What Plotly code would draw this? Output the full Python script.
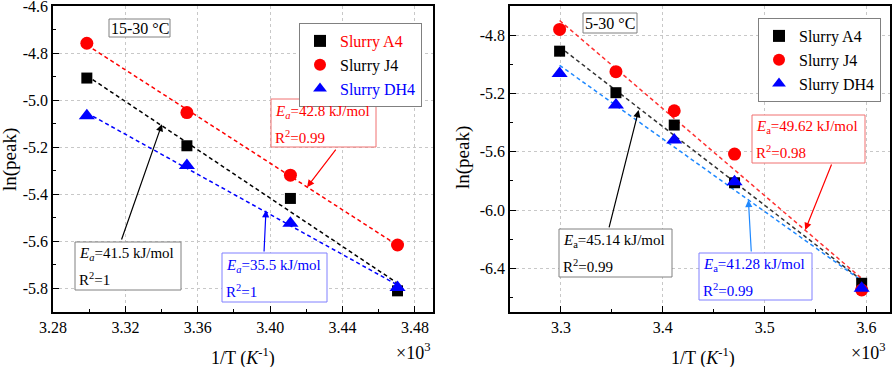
import numpy as np
import plotly.graph_objects as go

# ---------------- data ----------------
# left panel: 15-30 °C
x_left = [3.2987, 3.3540, 3.4112, 3.4704]
a4_left = [-4.905, -5.193, -5.417, -5.810]
j4_left = [-4.757, -5.052, -5.318, -5.615]
dh4_left = [-5.065, -5.277, -5.522, -5.796]

# right panel: 5-30 °C
x_right = [3.2987, 3.3540, 3.4112, 3.4704, 3.5952]
a4_right = [-4.910, -5.195, -5.417, -5.813, -6.503]
j4_right = [-4.761, -5.051, -5.319, -5.616, -6.549]
dh4_right = [-5.063, -5.280, -5.520, -5.806, -6.537]

series_names = ["Slurry A4", "Slurry J4", "Slurry DH4"]

xl_tickvals = [3.28, 3.32, 3.36, 3.40, 3.44, 3.48]
xl_ticktext = ["3.28", "3.32", "3.36", "3.40", "3.44", "3.48"]
yl_tickvals = [-4.6, -4.8, -5.0, -5.2, -5.4, -5.6, -5.8]
yl_ticktext = ["-4.6", "-4.8", "-5.0", "-5.2", "-5.4", "-5.6", "-5.8"]
xr_tickvals = [3.3, 3.4, 3.5, 3.6]
xr_ticktext = ["3.3", "3.4", "3.5", "3.6"]
yr_tickvals = [-4.8, -5.2, -5.6, -6.0, -6.4]
yr_ticktext = ["-4.8", "-5.2", "-5.6", "-6.0", "-6.4"]

# ---------------- layout helpers ----------------
W, H = 892, 367
FONT = "Liberation Serif, Times New Roman, serif"


def px(x):
    return x / W


def py(y):
    return 1 - y / H


fig = go.Figure()

RED, BLACK, BLUE = "#ff0000", "#000000", "#0000ff"
markers = [
    dict(symbol="square", size=11, color=BLACK),
    dict(symbol="circle", size=13, color=RED),
    dict(symbol="triangle-up", size=14, color=BLUE),
]

left_sets = [a4_left, j4_left, dh4_left]
right_sets = [a4_right, j4_right, dh4_right]
left_line_cols = [BLACK, RED, BLUE]
right_line_cols = ["#333333", "#ff3030", "#1e88ff"]
left_leg_cols = [RED, BLACK, BLUE]


def add_fit(xs, ys, col, xa, ya):
    k, b = np.polyfit(xs, ys, 1)
    xf = np.array([min(xs), max(xs)])
    fig.add_trace(go.Scatter(x=xf, y=k * xf + b, mode="lines", xaxis=xa, yaxis=ya,
                             line=dict(color=col, width=1.5, dash="4px,3px"),
                             showlegend=False, hoverinfo="skip"))


for ys, col in zip(left_sets, left_line_cols):
    add_fit(x_left, ys, col, "x", "y")
for ys, col in zip(right_sets, right_line_cols):
    add_fit(x_right, ys, col, "x2", "y2")

for i, ys in enumerate(left_sets):
    fig.add_trace(go.Scatter(x=x_left, y=ys, mode="markers", xaxis="x", yaxis="y",
                             marker=markers[i],
                             name=f"<span style='color:{left_leg_cols[i]}'>{series_names[i]}</span>",
                             legend="legend"))
for i, ys in enumerate(right_sets):
    fig.add_trace(go.Scatter(x=x_right, y=ys, mode="markers", xaxis="x2", yaxis="y2",
                             marker=markers[i], name=series_names[i], legend="legend2"))

axis_common = dict(
    showline=True, linecolor="black", linewidth=1.5, mirror=True,
    ticks="inside", ticklen=6, tickwidth=1, tickcolor="black",
    showgrid=True, gridcolor="#c8c8c8", griddash="dot", gridwidth=1,
    zeroline=False, automargin=False, ticklabeloverflow="allow",
    tickfont=dict(family=FONT, size=16, color="black"),
)

fig.update_layout(
    width=W, height=H,
    margin=dict(l=0, r=0, t=0, b=0),
    paper_bgcolor="white", plot_bgcolor="white",
    font=dict(family=FONT, size=15, color="black"),
    xaxis=dict(axis_common, domain=[px(53), px(433)], range=[3.28, 3.49],
               tickvals=xl_tickvals, ticktext=xl_ticktext, anchor="y",
               minor=dict(ticks="inside", ticklen=3, tickcolor="black", showgrid=False, dtick=0.02, tick0=3.28)),
    yaxis=dict(axis_common, domain=[py(312), py(6)], range=[-5.9, -4.5985],
               tickvals=yl_tickvals, ticktext=yl_ticktext, anchor="x",
               minor=dict(ticks="inside", ticklen=3, tickcolor="black", showgrid=False, dtick=0.1, tick0=-4.6)),
    xaxis2=dict(axis_common, domain=[px(510), px(890)], range=[3.25, 3.623],
                tickvals=xr_tickvals, ticktext=xr_ticktext, anchor="y2",
                minor=dict(ticks="inside", ticklen=3, tickcolor="black", showgrid=False, dtick=0.05, tick0=3.25)),
    yaxis2=dict(axis_common, domain=[py(312), py(6)], range=[-6.7, -4.6],
                tickvals=yr_tickvals, ticktext=yr_ticktext, anchor="x2",
                minor=dict(ticks="inside", ticklen=3, tickcolor="black", showgrid=False, dtick=0.2, tick0=-4.6)),
    legend=dict(x=px(299), y=py(23), xanchor="left", yanchor="top",
                bordercolor="#808080", borderwidth=1, bgcolor="white",
                font=dict(family=FONT, size=16, color="black"),
                itemsizing="constant", tracegroupgap=0),
    legend2=dict(x=px(758), y=py(18), xanchor="left", yanchor="top",
                 bordercolor="#808080", borderwidth=1, bgcolor="white",
                 font=dict(family=FONT, size=16, color="black"),
                 itemsizing="constant", tracegroupgap=0),
)

shapes = []
annotations = []


def box(x0, y0, x1, y1, col):
    shapes.append(dict(type="rect", xref="paper", yref="paper",
                       x0=px(x0), x1=px(x1), y0=py(y1), y1=py(y0),
                       line=dict(color=col, width=1), fillcolor="white", layer="above"))


def text(x, y, s, col, size=15, anchor="left", angle=0):
    annotations.append(dict(xref="paper", yref="paper", x=px(x), y=py(y), text=s,
                            showarrow=False, xanchor=anchor, yanchor="middle",
                            textangle=angle,
                            font=dict(family=FONT, size=size, color=col)))


def arrow(xa, ya, hx, hy, tx, ty, col):
    annotations.append(dict(xref=xa, yref=ya, axref=xa, ayref=ya, x=hx, y=hy, ax=tx, ay=ty,
                            text="", showarrow=True, arrowhead=2, arrowsize=1.2,
                            arrowwidth=1.2, arrowcolor=col, standoff=0))


# left panel annotations
box(109, 19, 170, 37, "#808080")
text(139.5, 28, "15-30 °C", "black", size=16, anchor="center")
box(271, 99, 376, 147, "#f07070")
text(273, 112, "<i>E<sub>a</sub></i>=42.8 kJ/mol", RED)
text(273, 137, "R<sup>2</sup>=0.99", RED)
box(75, 242, 181, 290, "#808080")
text(77, 254, "<i>E<sub>a</sub></i>=41.5 kJ/mol", "black")
text(77, 279, "R<sup>2</sup>=1", "black")
box(222, 253, 327, 302, "#8080ff")
text(224, 266, "<i>E<sub>a</sub></i>=35.5 kJ/mol", BLUE)
text(224, 291, "R<sup>2</sup>=1", BLUE)
arrow("x", "y", 3.4204, -5.369, 3.4369, -5.203, RED)
arrow("x", "y", 3.3402, -5.101, 3.3176, -5.598, "black")
arrow("x", "y", 3.3977, -5.467, 3.3966, -5.649, BLUE)
text(10, 160, "ln(peak)", "black", size=19, anchor="center", angle=-90)
text(243, 357, "1/T (<i>K</i><sup>-1</sup>)", "black", size=18, anchor="center")
text(413, 351, "×10<sup>3</sup>", "black", size=18, anchor="center")

# right panel annotations
box(583, 13, 637, 33, "#808080")
text(610, 23, "5-30 °C", "black", size=16, anchor="center")
box(752, 115, 865, 163, "#f07070")
text(754, 127, "<i>E</i><sub>a</sub>=49.62 kJ/mol", RED)
text(754, 152, "R<sup>2</sup>=0.98", RED)
box(559, 229, 672, 277, "#808080")
text(561, 241, "<i>E</i><sub>a</sub>=45.14 kJ/mol", "black")
text(561, 266, "R<sup>2</sup>=0.99", "black")
box(699, 253, 812, 300, "#8080ff")
text(701, 265, "<i>E</i><sub>a</sub>=41.28 kJ/mol", BLUE)
text(701, 290, "R<sup>2</sup>=0.99", BLUE)
arrow("x2", "y2", 3.5398, -6.137, 3.5662, -5.677, RED)
arrow("x2", "y2", 3.3763, -5.314, 3.3469, -6.130, "black")
arrow("x2", "y2", 3.4840, -5.931, 3.4869, -6.295, "#1e88ff")
text(463, 158, "ln(peak)", "black", size=19, anchor="center", angle=-90)
text(703, 357, "1/T (<i>K</i><sup>-1</sup>)", "black", size=18, anchor="center")
text(868, 351, "×10<sup>3</sup>", "black", size=18, anchor="center")

fig.update_layout(shapes=shapes, annotations=annotations)
fig.write_html("out.html", config={"displayModeBar": False},
               post_script="document.body.style.margin='0';document.body.style.overflow='hidden';")
